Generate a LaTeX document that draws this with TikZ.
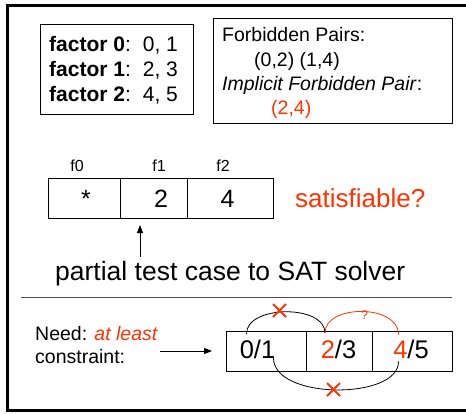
\documentclass[tikz,border=0pt]{standalone}
\usepackage{fontspec}
\setmainfont{Liberation Sans}
\usetikzlibrary{arrows.meta,shapes.misc}
\definecolor{myred}{RGB}{255,51,0}
\begin{document}
\begin{tikzpicture}[x=1pt,y=-1pt,
  box/.style={draw, line width=0.8pt, inner sep=0pt, anchor=north west},
  cell/.style={draw, line width=0.8pt, inner sep=0pt, minimum height=40pt, anchor=north west},
  txt/.style={inner sep=0pt, anchor=base west},
  ctxt/.style={inner sep=0pt, anchor=base},
  arr/.style={line width=0.8pt, -{Triangle[length=8pt,width=6pt]}},
  arc/.style={line width=0.8pt},
  xmark/.style={cross out, draw=myred, line width=2pt, minimum size=11pt, inner sep=0pt}
]
\useasboundingbox (0,0) rectangle (466,413);
% outer frame
\draw[line width=3pt] (470,5) -- (7,5) -- (7,410) -- (470,410);

% factor box
\node[box, minimum width=153pt, minimum height=90pt] (fbox) at (40,24) {};
\node[txt, font=\fontsize{21}{25}\selectfont] (fa0) at (49,51) {\textbf{factor 0}:\hspace{12pt}0, 1};
\node[txt, font=\fontsize{21}{25}\selectfont] (fa1) at (49,76) {\textbf{factor 1}:\hspace{12pt}2, 3};
\node[txt, font=\fontsize{21}{25}\selectfont] (fa2) at (49,101) {\textbf{factor 2}:\hspace{12pt}4, 5};

% forbidden pairs box
\node[box, minimum width=239pt, minimum height=105pt] (pbox) at (213,18) {};
\node[txt, font=\fontsize{19.5}{24}\selectfont] (fp1) at (222,41) {Forbidden Pairs:};
\node[txt, font=\fontsize{19.5}{24}\selectfont] (fp2) at (254,66) {(0,2) (1,4)};
\node[txt, font=\fontsize{19.5}{24}\selectfont] (fp3) at (222,90) {\textit{Implicit Forbidden Pair}:};
\node[txt, font=\fontsize{19.5}{24}\selectfont, text=myred] (fp4) at (271,114) {(2,4)};

% partial test case
\node[ctxt, font=\fontsize{16}{18}\selectfont] (l0) at (77,171.5) {f0};
\node[ctxt, font=\fontsize{16}{18}\selectfont] (l1) at (159,171.5) {f1};
\node[ctxt, font=\fontsize{16}{18}\selectfont] (l2) at (223,171.5) {f2};
\node[cell, minimum width=72pt] (c0) at (47.5,178) {};
\node[cell, minimum width=67pt] (c1) at (119.5,178) {};
\node[cell, minimum width=86pt] (c2) at (186.5,178) {};
\node[ctxt, font=\fontsize{25}{30}\selectfont] (v0) at (86,207) {*};
\node[ctxt, font=\fontsize{25}{30}\selectfont] (v1) at (161,207) {2};
\node[ctxt, font=\fontsize{25}{30}\selectfont] (v2) at (227.5,207) {4};
\node[txt, font=\fontsize{26}{30}\selectfont, text=myred] (sat) at (295,207) {satisfiable?};
\node[txt, font=\fontsize{26.5}{30}\selectfont] (ptc) at (55,280) {partial test case to SAT solver};
\coordinate (pa) at (140,257);
\coordinate (pb) at (140,225);
\draw[arr] (pa) -- (pb);

% separator
\coordinate (s1) at (21,297);
\coordinate (s2) at (452,297);
\draw[line width=0.8pt, black!70] (s1) -- (s2);

% at least constraint
\node[txt, font=\fontsize{19.5}{23}\selectfont] (need) at (35,340) {Need: \textcolor{myred}{\textit{at least}}};
\node[txt, font=\fontsize{19.5}{23}\selectfont] (cons) at (35,363.5) {constraint:};
\coordinate (qa) at (160,351);
\coordinate (qb) at (212,351);
\draw[arr] (qa) -- (qb);
\node[cell, minimum width=80pt] (b0) at (226,330.5) {};
\node[cell, minimum width=66pt] (b1) at (306,330.5) {};
\node[cell, minimum width=80pt] (b2) at (372,330.5) {};
\node[ctxt, font=\fontsize{25.5}{30}\selectfont] (w0) at (257.5,358.5) {0/1};
\node[ctxt, font=\fontsize{25.5}{30}\selectfont] (w1) at (338.5,358.5) {\textcolor{myred}{2}/3};
\node[ctxt, font=\fontsize{25.5}{30}\selectfont] (w2) at (411,358.5) {\textcolor{myred}{4}/5};

\coordinate (a0) at (246.5,334);
\coordinate (a1) at (325,333);
\coordinate (a2) at (398.5,334.5);
\coordinate (d0) at (273.5,358);
\coordinate (d2) at (398.5,361.5);
\draw[arc] (a0) .. controls (246,305) and (325,304) .. (a1);
\draw[arc, myred] (a1) .. controls (325,304) and (398.5,304) .. (a2);
\draw[arc] (d0) .. controls (273.5,400) and (399,400) .. (d2);
\node[xmark] (x1) at (279.5,310.5) {};
\node[xmark] (x2) at (333.5,389.5) {};
\node[ctxt, font=\fontsize{12.5}{14}\selectfont, text=myred] (qm) at (364.5,319) {?};
\end{tikzpicture}
\end{document}
